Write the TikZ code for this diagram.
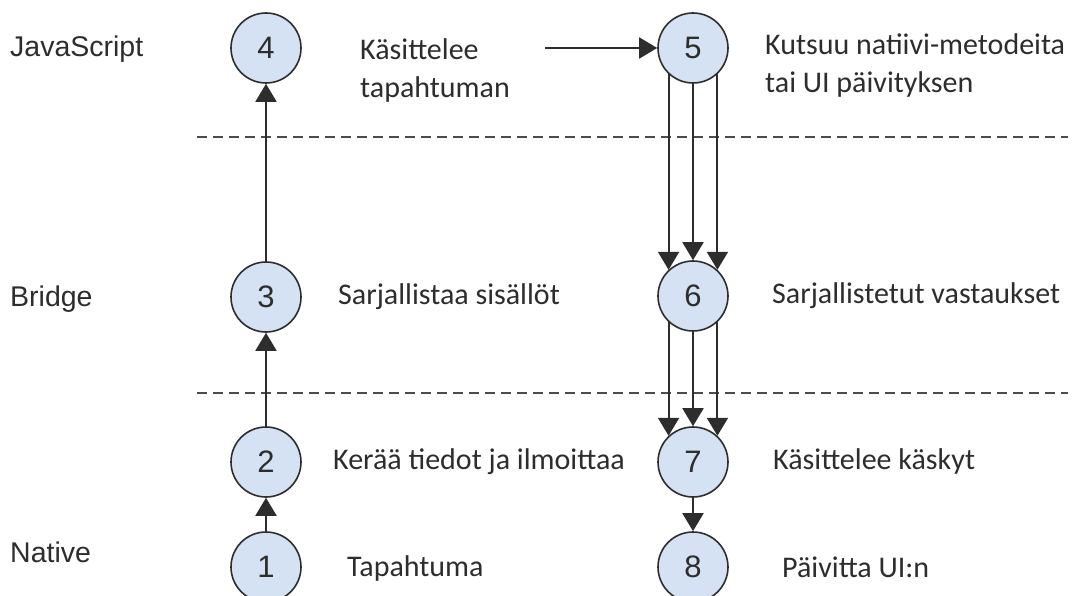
\documentclass[tikz,border=0pt]{standalone}
\usepackage{fontspec}
\newfontfamily\descfont{Carlito}
\newfontfamily\labfont{Liberation Sans}
\usetikzlibrary{arrows.meta}
\definecolor{ink}{RGB}{45,45,45}
\definecolor{circfill}{RGB}{212,226,243}
\tikzset{
  num/.style={circle, draw=ink, line width=1.6pt, fill=circfill, minimum size=70pt, inner sep=0pt, text=ink, font=\labfont\fontsize{31}{34}\selectfont},
  desc/.style={anchor=west, text=ink, align=left, inner sep=0pt, font=\descfont\fontsize{30}{38}\selectfont},
  layer/.style={anchor=west, text=ink, inner sep=0pt, font=\labfont\fontsize{28.5}{32}\selectfont},
  sep/.style={draw=ink!85, line width=1.4pt, dash pattern=on 10pt off 6pt},
  conn/.style={draw=ink, line width=1.9pt, -{Triangle[width=21pt,length=18pt]}}
}
\begin{document}
\begin{tikzpicture}[x=1pt,y=-1pt]
\useasboundingbox (0,0) rectangle (1072,596);
\fill[white] (0,0) rectangle (1072,596);
% separators
\coordinate (s1a) at (197,137); \coordinate (s1b) at (1068,137);
\coordinate (s2a) at (197,393); \coordinate (s2b) at (1068,393);
\draw[sep] (s1a) -- (s1b);
\draw[sep] (s2a) -- (s2b);
% layer labels
\node[layer] (ljs) at (10,49) {JavaScript};
\node[layer] (lbr) at (10,299) {Bridge};
\node[layer] (lna) at (10,552) {Native};
% circles
\node[num] (n4) at (266,48) {4};
\node[num] (n3) at (266,297) {3};
\node[num] (n2) at (266,462) {2};
\node[num] (n1) at (266,567) {1};
\node[num] (n5) at (693,48) {5};
\node[num] (n6) at (693,296) {6};
\node[num] (n7) at (693,462) {7};
\node[num] (n8) at (693,567) {8};
% descriptions
\node[desc] (d4) at (360,71) {Käsittelee\\tapahtuman};
\node[desc] (d5) at (765,66) {Kutsuu natiivi-metodeita\\tai UI päivityksen};
\node[desc] (d3) at (338,297) {Sarjallistaa sisällöt};
\node[desc] (d6) at (772,296) {Sarjallistetut vastaukset};
\node[desc] (d2) at (333,462) {Kerää tiedot ja ilmoittaa};
\node[desc] (d7) at (773,462) {Käsittelee käskyt};
\node[desc] (d1) at (347,569) {Tapahtuma};
\node[desc] (d8) at (782,567) {Päivitta UI:n};
% connectors
\coordinate (h0) at (545,48);
\draw[conn] (n1) -- (n2);
\draw[conn] (n2) -- (n3);
\draw[conn] (n3) -- (n4);
\draw[conn] (h0) -- (n5);
\draw[conn] (n5.-133) -- (n6.133);
\draw[conn] (n5.south) -- (n6.north);
\draw[conn] (n5.-47) -- (n6.47);
\draw[conn] (n6.-133) -- (n7.133);
\draw[conn] (n6.south) -- (n7.north);
\draw[conn] (n6.-47) -- (n7.47);
\draw[conn] (n7) -- (n8);
\end{tikzpicture}
\end{document}
